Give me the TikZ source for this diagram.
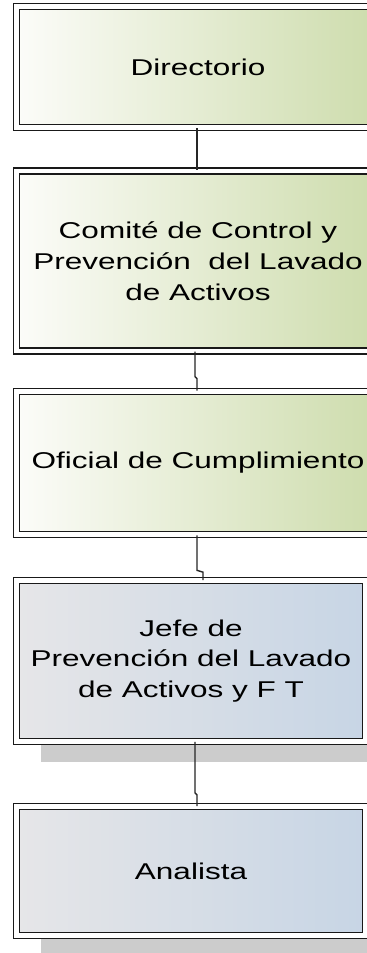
\documentclass[tikz,border=0pt]{standalone}
\usepackage{fontspec}
\setmainfont{Liberation Sans}
\newfontfamily\ancha[FakeStretch=1.38]{Liberation Sans}
\usepackage{tikz}
\usetikzlibrary{calc}
\usetikzlibrary{shadows}
\definecolor{verdeA}{RGB}{252,252,249}
\definecolor{verdeB}{RGB}{205,220,172}
\definecolor{azulA}{RGB}{230,230,232}
\definecolor{azulB}{RGB}{199,213,229}

\begin{document}
\begin{tikzpicture}[x=0.02cm,y=-0.02cm,
  box/.style={draw=black!90, line width=0.7pt, double=white, double distance=2.8pt,
    inner sep=0pt, align=center, font=\ancha\fontsize{13}{17.5}\selectfont},
  verde/.style={box, left color=verdeA, right color=verdeB, minimum width=7.27cm},
  azul/.style={box, left color=azulA, right color=azulB, minimum width=6.98cm,
    drop shadow={shadow xshift=0.48cm, shadow yshift=-0.42cm, fill=black!20, opacity=1}},
  link/.style={draw=black!85, line width=0.8pt}]
  \useasboundingbox (0,0) rectangle (367,953);
  \fill[white] (0,0) rectangle (367,953);
  \clip (0,0) rectangle (367,953);
  \node[verde, minimum height=2.42cm] (dir) at (198,67) {Directorio};
  \node[verde, minimum height=3.6cm] (com) at (198,261) {Comité de Control y\\Prevención \ del Lavado\\de Activos};
  \node[verde, minimum height=2.87cm] (ofi) at (198,463) {Oficial de Cumplimiento};
  \node[azul, minimum height=3.21cm] (jefe) at (191,661) {Jefe de\\ Prevención del Lavado\\de Activos y F T};
  \node[azul, minimum height=2.57cm] (ana) at (191,871) {Analista};
  % connectors
  \draw[link] ([xshift=-0.02cm]dir.south) -- ([xshift=-0.02cm]com.north);
  \draw[link] ([xshift=-0.06cm]com.south) -- ($(com.south)+(-3,25)$) -- ($(com.south)+(-1,27)$) -- ([xshift=-0.02cm]ofi.north);
  \draw[link] ([xshift=-0.02cm]ofi.south) -- ($(ofi.south)+(-1,35)$) -- ($(jefe.north)+(12,-8)$) -- ([xshift=0.24cm]jefe.north);
  \draw[link] ([xshift=0.08cm]jefe.south) -- ($(jefe.south)+(4,51)$) -- ($(jefe.south)+(6,53)$) -- ([xshift=0.12cm]ana.north);
\end{tikzpicture}
\end{document}
